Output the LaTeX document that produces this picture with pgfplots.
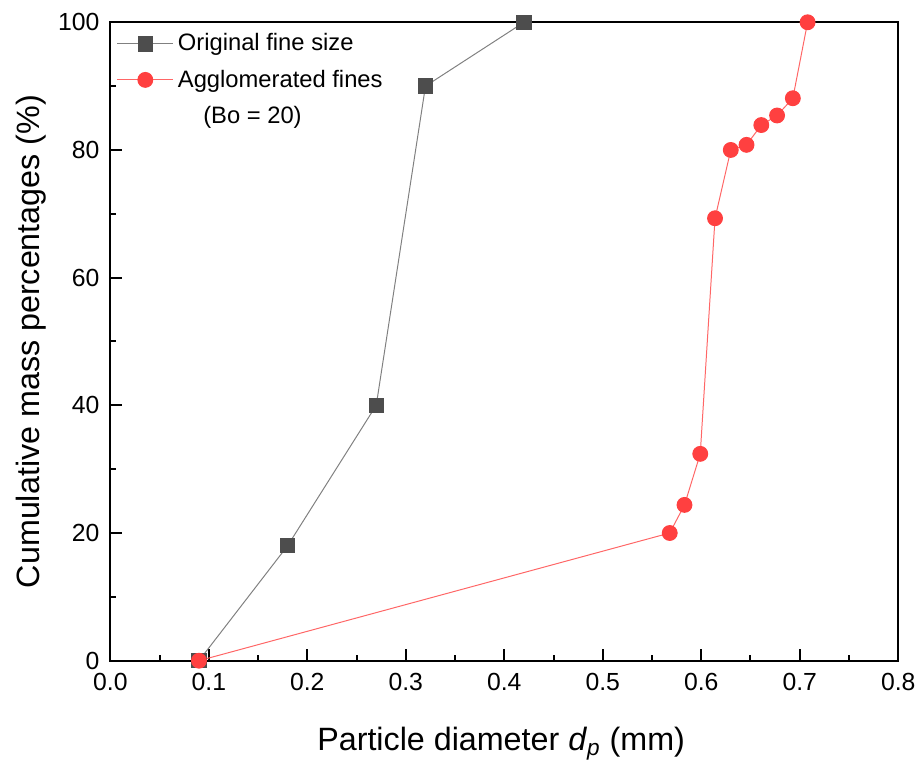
\documentclass[border={5pt 0pt 0pt 3.5pt}]{standalone}
\usepackage{fontspec}
\setmainfont{Liberation Sans}
\usepackage{pgfplots}
\pgfplotsset{compat=1.18}
\definecolor{sqgray}{HTML}{4D4D4D}
\definecolor{redpt}{HTML}{FF4040}
\begin{document}
\begin{tikzpicture}
\begin{axis}[
    scale only axis, width=398pt, height=322.5pt,
    xmin=0, xmax=0.8, ymin=0, ymax=100,
    xtick={0,0.1,...,0.8}, ytick={0,20,...,100},
    minor x tick num=1, minor y tick num=1,
    tick pos=left, tick align=inside,
    major tick length=6pt, minor tick length=3pt,
    axis line style={line width=1pt}, every tick/.style={line width=1pt, black},
    /pgf/number format/assume math mode=true,
    tick label style={font=\fontsize{12.5}{14}\selectfont},
    xticklabel style={yshift=-3pt, /pgf/number format/fixed,
        /pgf/number format/fixed zerofill, /pgf/number format/precision=1},
    yticklabel style={xshift=-2pt},
    every axis y label/.style={at={(axis description cs:-0.1,0.5)}, rotate=90, anchor=center,
        font=\fontsize{16.3}{18}\selectfont},
    every axis x label/.style={at={(axis description cs:0.496,-0.13)}, anchor=center,
        font=\fontsize{16.3}{18}\selectfont},
    xlabel={Particle diameter \textit{d}\textsubscript{\textit{p}} (mm)},
    ylabel={Cumulative mass percentages (\%)},
    clip=false,
    legend cell align=left,
    legend style={at={(0.0,0.995)}, anchor=north west, draw=none, fill=none,
        font=\fontsize{12}{14}\selectfont, row sep=4pt},
    legend image code/.code={\draw[#1, mark repeat=2, mark phase=2] plot coordinates {(0cm,0cm) (0.5cm,0cm) (1.0cm,0cm)};},
]
\addplot[color=gray, line width=0.5pt, mark=square*, mark size=3.6pt,
    mark options={fill=sqgray, draw=sqgray}] coordinates {
    (0.09,0) (0.18,18) (0.27,40) (0.32,90) (0.42,100)};
\addlegendentry{Original fine size}
\addplot[color=redpt!80, line width=0.5pt, mark=*, mark size=3.75pt,
    mark options={fill=redpt, draw=redpt}] coordinates {
    (0.09,0) (0.568,20) (0.583,24.4) (0.599,32.4) (0.614,69.3) (0.630,80.0)
    (0.646,80.8) (0.661,83.9) (0.677,85.4) (0.693,88.1) (0.708,100)};
\addlegendentry{Agglomerated fines}
\addlegendimage{empty legend}
\addlegendentry{\hspace{0.45cm}(Bo = 20)}
\end{axis}
\end{tikzpicture}
\end{document}
